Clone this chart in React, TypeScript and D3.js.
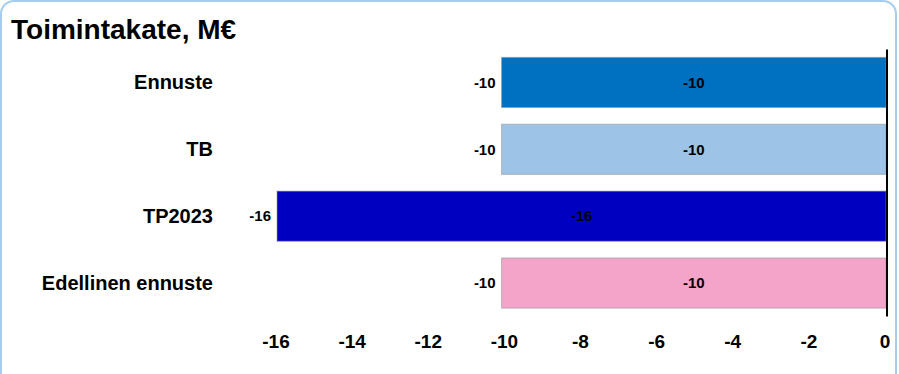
import React, { useEffect, useRef } from 'react';
import * as d3 from 'd3';

const categories = ['Ennuste', 'TB', 'TP2023', 'Edellinen ennuste'];
const values = [-10.1, -10.1, -16.0, -10.1];
const colors = ['#0070C0', '#9DC3E6', '#0000C0', '#F4A4C8'];
const tickValues = [-16, -14, -12, -10, -8, -6, -4, -2, 0];
const title = 'Toimintakate, M€';

// plain hyphen-minus, like the original
const fmt = (v: number) => String(Math.round(v));

const App: React.FC = () => {
  const ref = useRef<SVGSVGElement>(null);

  useEffect(() => {
    if (!ref.current) return;
    const width = 899;
    const height = 374;
    const font = '"Liberation Sans", Arial, sans-serif';

    const svg = d3.select(ref.current);
    svg.selectAll('*').remove();
    svg.attr('width', width).attr('height', height);

    svg.append('rect')
      .attr('width', width)
      .attr('height', height)
      .attr('fill', '#fff');

    // frame
    svg.append('rect')
      .attr('x', 1)
      .attr('y', 1)
      .attr('width', 895)
      .attr('height', 385)
      .attr('rx', 13)
      .attr('fill', 'none')
      .attr('stroke', '#A6CDEF')
      .attr('stroke-width', 2);

    svg.append('text')
      .attr('x', 11)
      .attr('y', 39)
      .attr('font-family', font)
      .attr('font-weight', 'bold')
      .attr('font-size', 28)
      .attr('fill', '#000')
      .text(title);

    const x = d3.scaleLinear().domain([-16, 0]).range([277, 886]);
    const y = d3.scaleBand<string>()
      .domain(categories)
      .range([49, 316.5])
      .paddingInner(0.25)
      .paddingOuter(0.125);

    const rows = categories.map((c, i) => ({ name: c, value: values[i], color: colors[i] }));

    const g = svg.append('g');

    g.selectAll('rect.bar')
      .data(rows)
      .join('rect')
      .attr('class', 'bar')
      .attr('x', d => x(d.value))
      .attr('y', d => y(d.name)!)
      .attr('width', d => x(0) - x(d.value))
      .attr('height', y.bandwidth())
      .attr('fill', d => d.color)
      .attr('stroke', 'rgba(150,150,150,0.6)')
      .attr('stroke-width', 1);

    // zero line
    svg.append('line')
      .attr('x1', x(0) + 1)
      .attr('x2', x(0) + 1)
      .attr('y1', 49.5)
      .attr('y2', 316.5)
      .attr('stroke', '#000')
      .attr('stroke-width', 2);

    // category labels
    g.selectAll('text.cat')
      .data(rows)
      .join('text')
      .attr('class', 'cat')
      .attr('x', 213)
      .attr('y', d => y(d.name)! + y.bandwidth() / 2)
      .attr('dy', '0.35em')
      .attr('text-anchor', 'end')
      .attr('font-family', font)
      .attr('font-weight', 'bold')
      .attr('font-size', 20)
      .text(d => d.name);

    // outside labels
    g.selectAll('text.out')
      .data(rows)
      .join('text')
      .attr('class', 'out')
      .attr('x', d => x(d.value) - 6)
      .attr('y', d => y(d.name)! + y.bandwidth() / 2)
      .attr('dy', '0.35em')
      .attr('text-anchor', 'end')
      .attr('font-family', font)
      .attr('font-weight', 'bold')
      .attr('font-size', 15)
      .text(d => fmt(d.value));

    // inside labels
    g.selectAll('text.in')
      .data(rows)
      .join('text')
      .attr('class', 'in')
      .attr('x', d => (x(d.value) + x(0)) / 2)
      .attr('y', d => y(d.name)! + y.bandwidth() / 2)
      .attr('dy', '0.35em')
      .attr('text-anchor', 'middle')
      .attr('font-family', font)
      .attr('font-weight', 'bold')
      .attr('font-size', 15)
      .text(d => fmt(d.value));

    // x axis labels
    const axis = svg.append('g')
      .attr('transform', 'translate(-1.5,348)')
      .call(d3.axisBottom(x).tickValues(tickValues).tickSize(0).tickPadding(0).tickFormat(d => fmt(+d)));
    axis.select('.domain').remove();
    axis.selectAll('text')
      .attr('y', 0)
      .attr('dy', 0)
      .attr('font-family', font)
      .attr('font-weight', 'bold')
      .attr('font-size', 19)
      .attr('fill', '#000');
  }, []);

  return (
    <svg ref={ref} style={{ position: 'absolute', left: 0, top: 0, display: 'block' }}></svg>
  );
};

export default App;
